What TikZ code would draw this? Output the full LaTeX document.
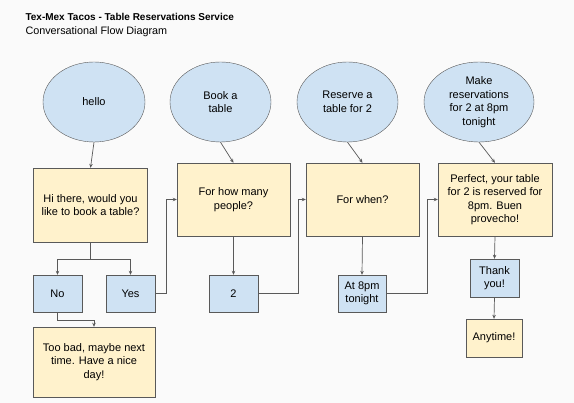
\documentclass[tikz,border=0pt]{standalone}
\usepackage{fontspec}
\setmainfont{Liberation Sans}
\usetikzlibrary{arrows.meta}
\usetikzlibrary{shapes.geometric}

\definecolor{userblue}{HTML}{CFE2F3}
\definecolor{botyellow}{HTML}{FFF2CC}
\definecolor{linegray}{HTML}{595959}

\begin{document}
\begin{tikzpicture}[x=1pt,y=-1pt,
  said/.style={ellipse,draw=linegray,fill=userblue,inner sep=0pt,align=center,
    minimum height=80pt,font=\fontsize{11}{13.5}\selectfont},
  reply/.style={draw=linegray,fill=botyellow,inner sep=0pt,align=center,
    font=\fontsize{11}{13.5}\selectfont},
  answer/.style={draw=linegray,fill=userblue,inner sep=0pt,align=center,
    minimum width=49pt,minimum height=37pt,font=\fontsize{11}{13.5}\selectfont},
  flow/.style={draw=linegray,line width=0.7pt,-{Stealth[length=4pt,width=3.5pt]}}]
%\draw[help lines, color=gray!30, dashed] (0,0) grid (574,403);
\fill[gray!4] (0,0) rectangle (574,403);
\useasboundingbox (0,0) rectangle (574,403);

\node[anchor=base west] (title) at (22,21) {\fontsize{10}{12}\selectfont\bfseries Tex-Mex Tacos - Table Reservations Service};
\node[anchor=base west] (subtitle) at (22,35) {\fontsize{10.8}{13}\selectfont Conversational Flow Diagram};

% what the guest says
\node[said,minimum width=102pt] (hello) at (94,102) {hello};
\node[said,minimum width=101pt] (book) at (220.5,102) {Book a\\table};
\node[said,minimum width=101pt] (reserve) at (347.5,102) {Reserve a\\table for 2};
\node[said,minimum width=110pt] (make) at (479,102) {Make\\reservations\\for 2 at 8pm\\tonight};

% what the bot answers
\node[reply,minimum width=114pt,minimum height=74pt] (hi) at (90.5,205) {Hi there, would you\\like to book a table?};
\node[reply,minimum width=113pt,minimum height=73pt] (many) at (233.5,199.5) {For how many\\people?};
\node[reply,minimum width=113pt,minimum height=73pt] (when) at (362.5,199.5) {For when?};
\node[reply,minimum width=114pt,minimum height=73pt] (perfect) at (495,199.5) {Perfect, your table\\for 2 is reserved for\\8pm. Buen\\provecho!};

\node[answer] (no) at (57.5,293.5) {No};
\node[answer] (yes) at (130.5,293.5) {Yes};
\node[answer] (two) at (233.5,293.5) {2};
\node[answer,minimum width=48pt] (at8) at (362,293.5) {At 8pm\\tonight};
\node[answer,minimum height=38pt] (thank) at (494.5,278) {Thank\\you!};

\node[reply,minimum width=122pt,minimum height=70pt] (toobad) at (94,362) {Too bad, maybe next\\time. Have a nice\\day!};
\node[reply,minimum width=56pt,minimum height=38pt] (anytime) at (494,338) {Anytime!};

\draw[flow] (hello.south) -- (hi.north);
\draw[flow] (book.south) -- (many.north);
\draw[flow] (reserve.south) -- (when.north);
\draw[flow] (make.south) -- (perfect.north);

\coordinate (split) at (90.5,259);
\draw[draw=linegray,line width=0.7pt] (hi.south) -- (split);
\draw[flow] (split) -| (no.north);
\draw[flow] (split) -| (yes.north);
\draw[flow] (no.south) -- ++(0,8) -| (toobad.north);

\draw[flow] (yes.east) -- ++(11,0) |- (many.west);
\draw[flow] (many.south) -- (two.north);
\draw[flow] (two.east) -- ++(40,0) |- (when.west);
\draw[flow] (when.south) -- (at8.north);
\draw[flow] (at8.east) -- ++(41,0) |- (perfect.west);
\draw[flow] (perfect.south) -- (thank.north);
\draw[flow] (thank.south) -- (anytime.north);

\end{tikzpicture}
\end{document}
